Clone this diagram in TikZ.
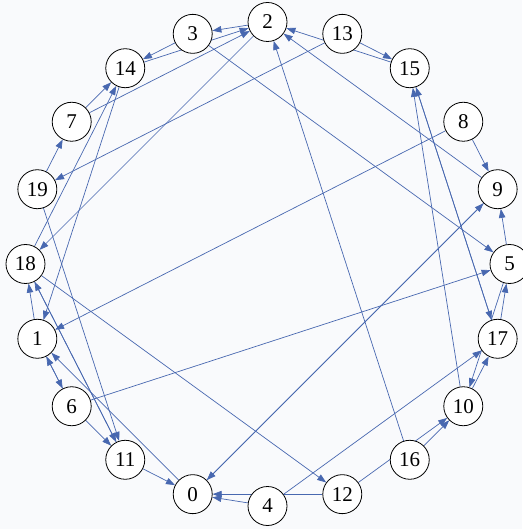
\documentclass[tikz,border=0pt]{standalone}
\usepackage{fontspec}
\setmainfont{Liberation Serif}
\usetikzlibrary{arrows.meta}
\definecolor{edgeblue}{RGB}{72,104,176}
\definecolor{bgcol}{RGB}{249,250,252}
\pgfdeclarelayer{bglayer}
\pgfdeclarelayer{edgelayer}
\pgfsetlayers{bglayer,edgelayer,main}
\begin{document}
\begin{tikzpicture}[x=1pt,y=1pt,
  vtx/.style={circle,draw=black,line width=0.8pt,fill=white,minimum size=39pt,inner sep=0pt,font=\fontsize{21}{21}\selectfont},
  arc/.style={draw=edgeblue,line width=0.7pt,-{Triangle[length=9pt,width=6.5pt]}}]
\begin{pgfonlayer}{bglayer}
\fill[bgcol] (-267.5,-265) rectangle (254.5,264);
\end{pgfonlayer}
\useasboundingbox (-267.5,-265) rectangle (254.5,264);
\node[vtx] (n2)  at (90:242)  {2};
\node[vtx] (n3)  at (108:242) {3};
\node[vtx] (n14) at (126:242) {14};
\node[vtx] (n7)  at (144:242) {7};
\node[vtx] (n19) at (162:242) {19};
\node[vtx] (n18) at (180:242) {18};
\node[vtx] (n1)  at (198:242) {1};
\node[vtx] (n6)  at (216:242) {6};
\node[vtx] (n11) at (234:242) {11};
\node[vtx] (n0)  at (252:242) {0};
\node[vtx] (n4)  at (270:242) {4};
\node[vtx] (n12) at (288:242) {12};
\node[vtx] (n16) at (306:242) {16};
\node[vtx] (n10) at (324:242) {10};
\node[vtx] (n17) at (342:242) {17};
\node[vtx] (n5)  at (0:242)   {5};
\node[vtx] (n9)  at (18:242)  {9};
\node[vtx] (n8)  at (36:242)  {8};
\node[vtx] (n15) at (54:242)  {15};
\node[vtx] (n13) at (72:242)  {13};
\begin{pgfonlayer}{edgelayer}
\foreach \a/\b in {2/3, 3/14, 14/2, 7/2, 7/14, 19/7, 18/14, 14/1, 2/18, 13/19,
  19/11, 15/2, 13/15, 9/2, 16/2, 3/5, 8/9, 8/1, 5/9, 0/9, 9/0, 6/5, 4/17,
  12/10, 16/10, 10/17, 5/10, 17/5, 10/15, 15/17, 17/15, 4/0, 12/0, 18/12,
  11/0, 0/1, 6/11, 1/6, 6/1, 1/18, 11/18, 18/11}
  \draw[arc] (n\a) -- (n\b);
\end{pgfonlayer}
\end{tikzpicture}
\end{document}
